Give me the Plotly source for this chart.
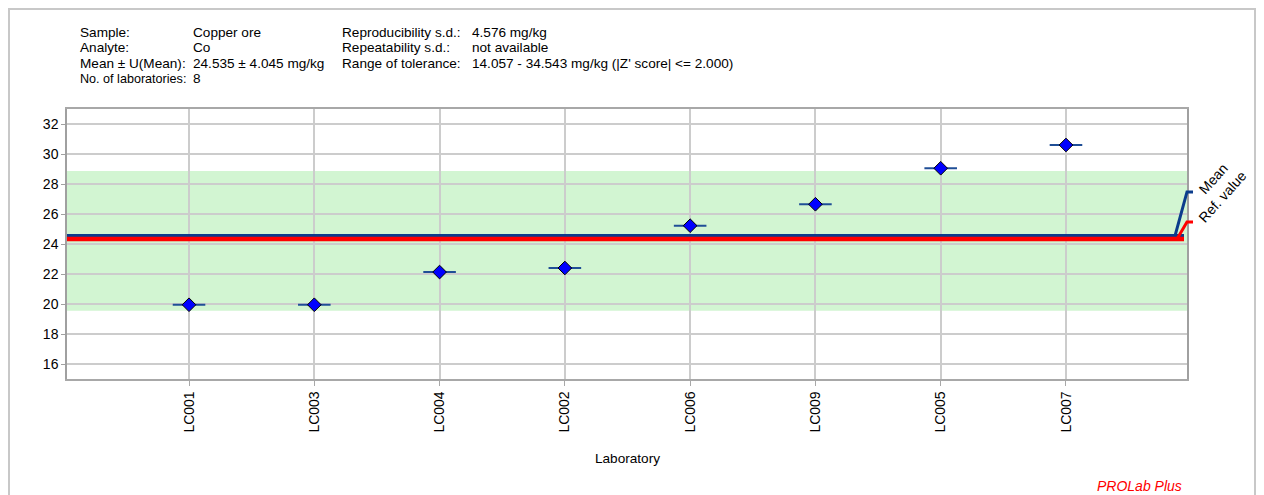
import plotly.graph_objects as go

# ---------------- data ----------------
laboratories = ["LC001", "LC003", "LC004", "LC002", "LC006", "LC009", "LC005", "LC007"]
lab_values = [19.95, 19.95, 22.13, 22.40, 25.22, 26.65, 29.05, 30.60]
lab_spread = [0.13, 0.13, 0.13, 0.13, 0.13, 0.13, 0.13, 0.13]
mean_value = 24.535
ref_value = 24.33
band_low = 19.55
band_high = 28.87
mean_tag_y = 27.47
ref_tag_y = 25.47

header_rows = [
    ("Sample:", "Copper ore", "Reproducibility s.d.:", "4.576 mg/kg"),
    ("Analyte:", "Co", "Repeatability s.d.:", "not available"),
    ("Mean \u00b1 U(Mean):", "24.535 \u00b1 4.045 mg/kg", "Range of tolerance:",
     "14.057 - 34.543 mg/kg (|Z' score| <= 2.000)"),
    ("No. of laboratories:", "8", "", ""),
]

# ---------------- layout geometry (pixels, in page coordinates) ----------------
OFF = 8                      # page body margin
W, H = 1264 - OFF, 495 - OFF
L, R, T, B = 67, 1187, 109, 379
PW, PH = R - L, B - T
FONT = "Liberation Sans, Arial, sans-serif"


def px(x):
    return (x - L) / PW


def py(y):
    return (B - y) / PH


xs = list(range(len(laboratories)))

fig = go.Figure()
fig.add_trace(go.Scatter(
    x=xs, y=lab_values, mode="markers",
    marker=dict(symbol="diamond", size=10.5, color="#0000ff",
                line=dict(color="#000000", width=1)),
    error_x=dict(type="data", array=lab_spread, color="#1f4e96", thickness=2, width=0),
    showlegend=False, hoverinfo="x+y",
))

shapes = []
# outer frame
shapes.append(dict(type="rect", xref="paper", yref="paper",
                   x0=px(9), x1=px(1255), y0=py(540), y1=py(9),
                   line=dict(color="#c8c8c8", width=2), layer="below"))
# tolerance band
shapes.append(dict(type="rect", xref="paper", yref="y", x0=0, x1=1,
                   y0=band_low, y1=band_high, fillcolor="#d2f5d2",
                   line=dict(width=0), layer="below"))
# mean line (blue)
shapes.append(dict(type="path", xref="paper", yref="y",
                   path=f"M 0,{mean_value} L {px(1184)},{mean_value}",
                   line=dict(color="#0b3c8c", width=4), layer="above"))
shapes.append(dict(type="path", xref="paper", yref="y",
                   path=f"M {px(1175)},{mean_value} L {px(1187)},{mean_tag_y} L {px(1193)},{mean_tag_y}",
                   line=dict(color="#0b3c8c", width=3), layer="above"))
# reference line (red)
shapes.append(dict(type="path", xref="paper", yref="y",
                   path=f"M 0,{ref_value} L {px(1184)},{ref_value}",
                   line=dict(color="#ff0000", width=4.5), layer="above"))
shapes.append(dict(type="path", xref="paper", yref="y",
                   path=f"M {px(1177)},{ref_value} L {px(1187)},{ref_tag_y} L {px(1193)},{ref_tag_y}",
                   line=dict(color="#ff0000", width=3), layer="above"))

ann = []
col_x = [78, 191, 340, 470]
row_y = [32, 47.5, 63, 78.5]
for r, row in enumerate(header_rows):
    for c, txt in enumerate(row):
        if not txt:
            continue
        size = 12.6 if txt.startswith("No. of") else 13.6
        ann.append(dict(text=txt, xref="paper", yref="paper", x=px(col_x[c]), y=py(row_y[r]),
                        xanchor="left", yanchor="middle", showarrow=False,
                        font=dict(family=FONT, size=size, color="#000000")))

ann.append(dict(text="Mean", xref="paper", yref="paper", x=px(1213), y=py(179),
                textangle=-48, showarrow=False, xanchor="center", yanchor="middle",
                font=dict(family=FONT, size=14, color="#000000")))
ann.append(dict(text="Ref. value", xref="paper", yref="paper", x=px(1222), y=py(197),
                textangle=-48, showarrow=False, xanchor="center", yanchor="middle",
                font=dict(family=FONT, size=14, color="#000000")))
ann.append(dict(text="Laboratory", xref="paper", yref="paper", x=0.5, y=py(458),
                showarrow=False, xanchor="center", yanchor="middle",
                font=dict(family=FONT, size=13.6, color="#000000")))
ann.append(dict(text="<i>PROLab Plus</i>", xref="paper", yref="paper", x=px(1184), y=py(486),
                showarrow=False, xanchor="right", yanchor="middle",
                font=dict(family=FONT, size=14, color="#ff0000")))

fig.update_layout(
    width=W, height=H,
    margin=dict(l=L - OFF, r=W - (R - OFF), t=T - OFF, b=H - (B - OFF), pad=0),
    paper_bgcolor="#ffffff", plot_bgcolor="#ffffff",
    font=dict(family=FONT, size=14, color="#000000"),
    shapes=shapes, annotations=ann, showlegend=False,
    xaxis=dict(range=[-0.974, 7.966], tickmode="array", tickvals=xs, ticktext=laboratories,
               tickangle=-90, showgrid=True, gridcolor="#cccccc", gridwidth=1.5,
               showline=True, linecolor="#a8a8a8", linewidth=1.5, mirror=True,
               ticks="outside", ticklen=5, tickcolor="#a8a8a8", zeroline=False,
               tickfont=dict(family=FONT, size=14, color="#000000")),
    yaxis=dict(range=[15, 33], tickmode="array", tickvals=list(range(16, 33, 2)),
               showgrid=True, gridcolor="#cccccc", gridwidth=1.5,
               showline=True, linecolor="#a0a0a0", linewidth=1.5, mirror=True,
               ticks="outside", ticklen=4, tickcolor="#a0a0a0", zeroline=False,
               tickfont=dict(family=FONT, size=14, color="#000000")),
)

fig.write_html("out.html")
